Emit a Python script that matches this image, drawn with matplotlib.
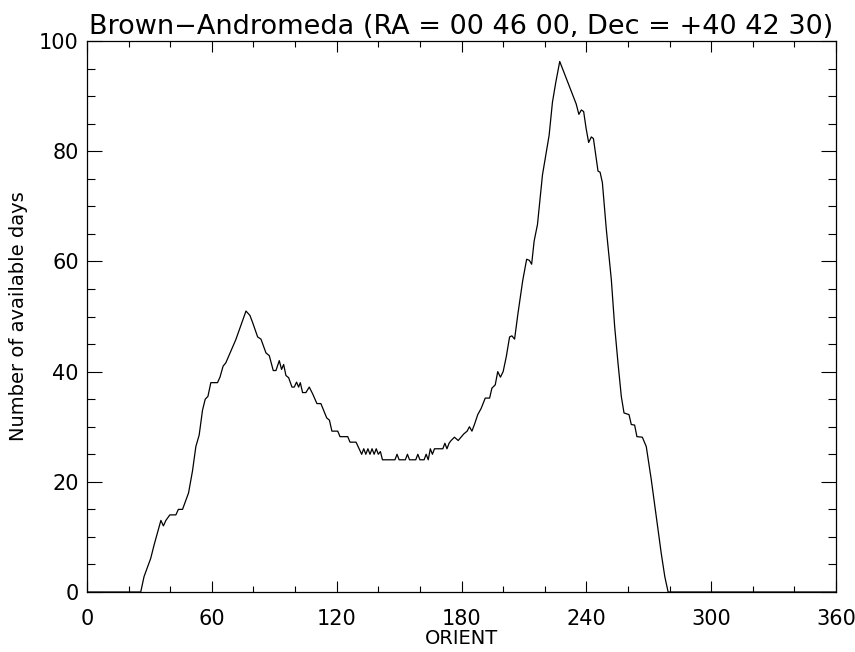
import matplotlib
matplotlib.use("Agg")
import matplotlib.pyplot as plt
from matplotlib.ticker import MultipleLocator

# values
orient = [0, 25.8, 27.4, 30.6, 32.2, 33.8, 35.5, 36.7, 37.9, 39.8, 42.7, 43.9, 45.9,
          48.8, 50.7, 52.3, 53.9, 55.5, 56.8, 58.1, 59.5, 62.7, 63.9, 65.4, 66.7,
          71.5, 76.4, 78.3, 79.6, 82, 83.6, 86, 87.6, 89.5, 90.8, 92.4, 93.5, 94.5,
          95.6, 96.9, 98.5, 99.6, 100.7, 101.7, 102.5, 103.6, 105.2, 106.8, 108.4,
          110.5, 112.4, 115.2, 116.5, 117.7, 120.5, 121.6, 125.3, 126.4, 129.3,
          130.9, 132, 133, 134, 135, 136, 137, 138, 139, 140, 141, 142, 148, 149,
          150, 153, 154, 155, 158, 159, 160, 162, 163, 164, 165, 166, 167, 171,
          172, 173, 174, 175, 176.6, 178.4, 179.5, 181.1, 182.7, 183.8, 185, 186.2,
          187.8, 189.4, 191.4, 193.5, 194.6, 196.2, 197.4, 198.7, 200, 201.5, 203.1,
          204.2, 205.5, 207.1, 209.4, 211.3, 212.6, 213.7, 214.9, 216.5, 218.9,
          220.5, 222.1, 223.7, 225.3, 227.2, 235.1, 236.4, 237.6, 238.7, 239.9,
          241.1, 242.4, 243.4, 245.6, 246.6, 247.7, 249.6, 252, 253.6, 255.2, 256.8,
          258.1, 260.5, 261.6, 263.2, 264.3, 266.9, 268.8, 271.2, 273.6, 276, 277.7,
          279.3, 360]
days = [0, 0, 2.8, 6.1, 8.5, 10.7, 13, 12, 13, 14, 14, 15, 15,
        18, 22, 26.4, 28.5, 33, 35, 35.5, 38, 38, 39, 41, 41.6,
        45.8, 51, 50.2, 48.9, 46.3, 45.9, 43.4, 42.9, 40.2, 40.2, 42, 40.4, 41.3,
        39.3, 38.9, 37.2, 37.2, 38.1, 37.2, 38, 36.2, 36.2, 37.2, 36,
        34.2, 34.2, 31.6, 31.2, 29.2, 29.2, 28.2, 28.2, 27.2, 27.2,
        25.9, 25, 26, 25, 26, 25, 26, 25, 26, 25, 25.5, 24, 24, 25,
        24, 24, 25, 24, 24, 25, 24, 24, 25, 24, 26, 25, 26, 26,
        27, 26, 27, 27.5, 28.1, 27.5, 28, 28.7, 29.2, 30, 29.2, 30.4,
        32.2, 33.3, 35.2, 35.2, 37, 37.6, 40, 39, 40, 42.7, 46.3,
        46.5, 45.9, 50.5, 56.5, 60.4, 60.2, 59.5, 63.7, 66.7, 75.7,
        79.3, 82.9, 88.9, 92.5, 96.3, 88.6, 86.7, 87.5, 87.2, 84.1,
        81.6, 82.6, 82.3, 76.4, 76.2, 74.3, 65.8, 56.7, 48.2, 41.6, 35.5,
        32.5, 32.2, 30.4, 30.3, 28.2, 28.1, 26.4, 20.4, 13.7, 7, 2.8,
        0, 0]

title = "Brown\u2212Andromeda (RA = 00 46 00, Dec = +40 42 30)"

plt.rcParams['font.family'] = ['DejaVu Sans']

fig = plt.figure(figsize=(8.55, 6.52), dpi=100)
ax = fig.add_axes([0.1018, 0.092, 0.8760, 0.845])
ax.plot(orient, days, color='black', linewidth=0.9)

ax.set_xlim(0, 360)
ax.set_ylim(0, 100)
ax.xaxis.set_major_locator(MultipleLocator(60))
ax.xaxis.set_minor_locator(MultipleLocator(20))
ax.yaxis.set_major_locator(MultipleLocator(20))
ax.yaxis.set_minor_locator(MultipleLocator(5))
ax.tick_params(axis='both', which='both', direction='in', top=True, right=True,
               width=0.8, labelsize=15, colors='black')
ax.tick_params(axis='x', which='major', length=8, pad=12)
ax.tick_params(axis='x', which='minor', length=4.2)
ax.tick_params(axis='y', which='major', length=10.8, pad=6)
ax.tick_params(axis='y', which='minor', length=5.8)
for s in ax.spines.values():
    s.set_linewidth(0.9)

ax.set_xlabel("ORIENT", fontsize=14, labelpad=0)
ax.set_ylabel("Number of available days", fontsize=14, labelpad=8)
ax.set_title(title, fontsize=19.5, pad=5)

fig.savefig("out.png", dpi=100)
